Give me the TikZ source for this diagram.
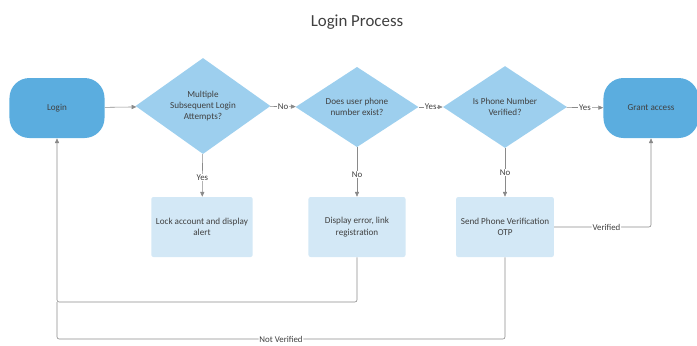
\documentclass[tikz,border=0pt]{standalone}
\usepackage{fontspec}
\setmainfont{Carlito}
\usepackage{tikz}
\usetikzlibrary{
  arrows.meta,
  positioning,
  shapes.geometric
}
\definecolor{termblue}{HTML}{5BADDF}
\definecolor{decblue}{HTML}{9DCFEE}
\definecolor{actblue}{HTML}{D3E8F6}
\definecolor{flowgray}{HTML}{8A8A8A}
\definecolor{txtgray}{HTML}{404040}

\begin{document}
\begin{tikzpicture}[
  x=0.025cm, y=-0.025cm,
  every node/.style={font=\fontsize{6.5}{8}\selectfont, text=txtgray, align=center},
  termnode/.style={fill=termblue, rounded corners=0.5cm,
                   minimum width=2.375cm, minimum height=1.5cm},
  decnode/.style={diamond, fill=decblue, inner sep=0pt},
  actnode/.style={fill=actblue, rounded corners=1.5pt,
                  minimum width=2.425cm, minimum height=1.5cm},
  arr/.style={-{Triangle[length=3.5pt, width=3pt]}, flowgray, thin},
  ln/.style={flowgray, thin, rounded corners=1.5pt},
  lbl/.style={fill=white, inner sep=0.6pt, font=\fontsize{6.3}{7}\selectfont},
]
  \useasboundingbox (0,0) rectangle (697,345);

  % Title
  \node[font=\fontsize{12}{14}\selectfont] (title) at (357,22) {Login Process};

  % Top row
  \node[termnode] (login) at (57,108) {Login};
  \node[decnode, minimum width=3.375cm, minimum height=2.2cm] (multi) at (203,106)
    {Multiple\\Subsequent Login\\Attempts?};
  \node[decnode, minimum width=3.075cm, minimum height=1.825cm] (exist) at (357,107)
    {Does user phone\\number exist?};
  \node[decnode, minimum width=3.1cm, minimum height=1.925cm] (verif) at (505,107)
    {Is Phone Number\\Verified?};
  \node[termnode] (grant) at (651,108) {Grant access};

  % Action boxes
  \node[actnode] (lock) at (202,227) {Lock account and display\\alert};
  \node[actnode] (error) at (357,227) {Display error, link\\registration};
  \node[actnode] (otp) at (505,227) {Send Phone Verification\\OTP};

  % Main flow
  \draw[arr] (login) -- (multi);
  \draw[arr] (multi) -- (exist) node[lbl, midway] {No};
  \draw[arr] (exist) -- (verif) node[lbl, midway] {Yes};
  \draw[arr] (verif) -- (grant) node[lbl, midway] {Yes};

  \draw[arr] (multi) -- (lock) node[lbl, pos=0.55] {Yes};
  \draw[arr] (exist) -- (error) node[lbl, pos=0.55] {No};
  \draw[arr] (verif) -- (otp) node[lbl, pos=0.5] {No};

  % Verified back to grant
  \draw[arr, rounded corners=1.5pt] (otp.east) -| (grant.south)
    node[lbl, pos=0.27] {Verified};

  % Return loops to login
  \coordinate (errbot) at (357,302);
  \coordinate (otpbot) at (505,339);
  \draw[ln] (otp.south) -- (otpbot) -- (otpbot -| login.south)
    node[lbl, pos=0.5] {Not Verified} -- (login.south |- errbot);
  \draw[arr, rounded corners=1.5pt] (error.south) -- (errbot) -| (login.south);
\end{tikzpicture}
\end{document}
